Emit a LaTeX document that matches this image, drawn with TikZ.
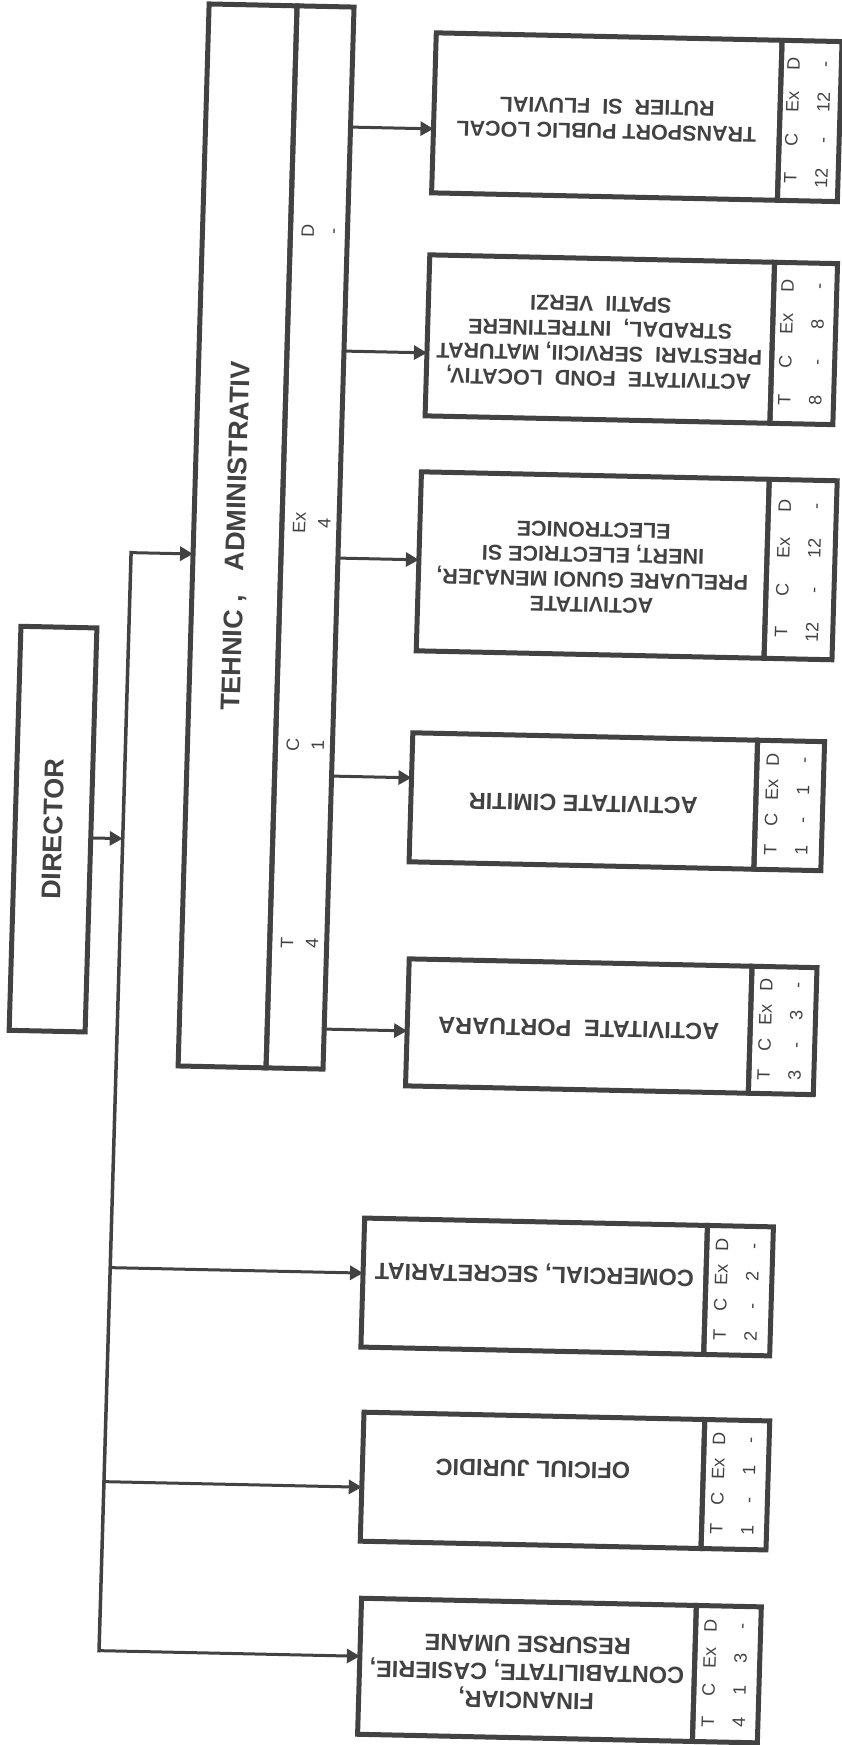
\documentclass[tikz,border=0pt]{standalone}
\usepackage{fontspec}
\setmainfont{Liberation Sans}
\usepackage{graphicx}
\usepackage{array}
\usetikzlibrary{arrows.meta,positioning}
\definecolor{ink}{gray}{0.26}
\tikzset{
  unitbox/.style={draw=ink,line width=5pt,outer sep=0pt,inner sep=0pt,text=ink},
  headbox/.style={unitbox,font=\fontsize{27}{31}\selectfont\bfseries},
  namebox/.style={unitbox,font=\fontsize{23.5}{28}\selectfont\bfseries},
  longbox/.style={unitbox,font=\fontsize{21.5}{25}\selectfont\bfseries},
  staffbox/.style={unitbox,anchor=west,font=\fontsize{18}{20}\selectfont},
  stafftag/.style={inner sep=0pt,text=ink,font=\fontsize{18}{20}\selectfont},
  link/.style={draw=ink,line width=3pt,-{Triangle[length=13pt,width=14pt]}},
  busline/.style={draw=ink,line width=3.5pt,line cap=rect}
}
\newcommand{\upside}[1]{\rotatebox[origin=c]{180}{\begin{tabular}{@{}c@{}}#1\end{tabular}}}
\newcommand{\staff}[5]{\rotatebox{90}{\setlength{\tabcolsep}{0pt}%
  \begin{tabular}{*{4}{w{c}{#1}}}T&C&Ex&D\\[11pt]#2&#3&#4&#5\end{tabular}}}
\newcommand{\pairtag}[2]{\rotatebox{90}{\begin{tabular}{@{}c@{}}#1\\[5pt]#2\end{tabular}}}

\begin{document}
\begin{tikzpicture}[x=1pt,y=-1pt]
  \useasboundingbox (0,0) rectangle (841,1745);
  \begin{scope}[shift={(25.5pt,9pt)},xslant=0.0292,yslant=-0.0215,transform shape]
  \node[headbox,minimum width=76pt,minimum height=404pt] (director) at (52,837) {\rotatebox{90}{DIRECTOR}};
  \node[headbox,minimum width=88pt,minimum height=1062pt] (tehnic) at (228,540) {\rotatebox{90}{TEHNIC ,\hspace{24pt}ADMINISTRATIV}};
  \node[staffbox,minimum width=57pt,minimum height=1062pt] (tehnicnr) at (tehnic.east) {};
  \node[stafftag] (tT) at (304,946) {\pairtag{T}{4}};
  \node[stafftag] (tC) at (304,748) {\pairtag{C}{1}};
  \node[stafftag] (tEx) at (304,526) {\pairtag{Ex}{4}};
  \node[stafftag] (tD) at (304,234) {\pairtag{D}{-}};

  \node[longbox,minimum width=346pt,minimum height=160pt] (transport) at (585,113) {\upside{TRANSPORT PUBLIC LOCAL\\RUTIER\ \ SI\ \ FLUVIAL}};
  \node[staffbox,minimum width=60pt,minimum height=160pt] (transportnr) at (transport.east) {\staff{38pt}{12}{-}{12}{-}};
  \node[longbox,minimum width=345pt,minimum height=161pt] (fond) at (584.5,335.5) {\upside{ACTIVITATE\ \ FOND\ \ LOCATIV,\\PRESTARI\ \ SERVICII, MATURAT\\STRADAL,\ \ INTRETINERE\\SPATII\ \ VERZI}};
  \node[staffbox,minimum width=63pt,minimum height=161pt] (fondnr) at (fond.east) {\staff{38pt}{8}{-}{8}{-}};
  \node[longbox,minimum width=348pt,minimum height=179pt] (gunoi) at (584,561.5) {\upside{ACTIVITATE\\PRELUARE GUNOI MENAJER,\\INERT, ELECTRICE SI\\ELECTRONICE}};
  \node[staffbox,minimum width=68pt,minimum height=179pt] (gunoinr) at (gunoi.east) {\staff{42pt}{12}{-}{12}{-}};
  \node[namebox,minimum width=345pt,minimum height=129pt] (cimitir) at (581.5,797.5) {\upside{ACTIVITATE CIMITIR}};
  \node[staffbox,minimum width=67pt,minimum height=129pt] (cimitirnr) at (cimitir.east) {\staff{30pt}{1}{-}{1}{-}};
  \node[namebox,minimum width=343pt,minimum height=127pt] (port) at (583.5,1022.5) {\upside{ACTIVITATE\ \ PORTUARA}};
  \node[staffbox,minimum width=65pt,minimum height=127pt] (portnr) at (port.east) {\staff{30pt}{3}{-}{3}{-}};

  \node[namebox,minimum width=343pt,minimum height=129pt] (comercial) at (546.5,1283.5) {\upside{\\COMERCIAL, SECRETARIAT}};
  \node[staffbox,minimum width=66pt,minimum height=129pt] (comercialnr) at (comercial.east) {\staff{30pt}{2}{-}{2}{-}};
  \node[namebox,minimum width=341pt,minimum height=129pt] (juridic) at (550.5,1477.5) {\upside{\\OFICIUL JURIDIC}};
  \node[staffbox,minimum width=65pt,minimum height=129pt] (juridicnr) at (juridic.east) {\staff{30pt}{1}{-}{1}{-}};
  \node[namebox,minimum width=335pt,minimum height=136pt] (financiar) at (550.5,1667) {\upside{FINANCIAR,\\CONTABILITATE, CASIERIE,\\RESURSE UMANE}};
  \node[staffbox,minimum width=65pt,minimum height=136pt] (financiarnr) at (financiar.east) {\staff{32pt}{4}{1}{3}{-}};

  \coordinate (b0) at (122,559);
  \coordinate (b2) at (122,845);
  \coordinate (b6) at (122,1274);
  \coordinate (b7) at (122,1488);
  \coordinate (b8) at (122,1657);
  \coordinate (k1) at (329,129);
  \coordinate (k2) at (329,353);
  \coordinate (k3) at (329,560);
  \coordinate (k4) at (329,778);
  \coordinate (k5) at (329,1031);

  \draw[busline] (b0) -- (b8);
  \draw[link] (b0) -- (b0 -| tehnic.west);
  \draw[link] (b2 -| director.east) -- (b2);
  \draw[link] (k1) -- (k1 -| transport.west);
  \draw[link] (k2) -- (k2 -| fond.west);
  \draw[link] (k3) -- (k3 -| gunoi.west);
  \draw[link] (k4) -- (k4 -| cimitir.west);
  \draw[link] (k5) -- (k5 -| port.west);
  \draw[link] (b6) -- (b6 -| comercial.west);
  \draw[link] (b7) -- (b7 -| juridic.west);
  \draw[link] (b8) -- (b8 -| financiar.west);
  \end{scope}
\end{tikzpicture}
\end{document}
